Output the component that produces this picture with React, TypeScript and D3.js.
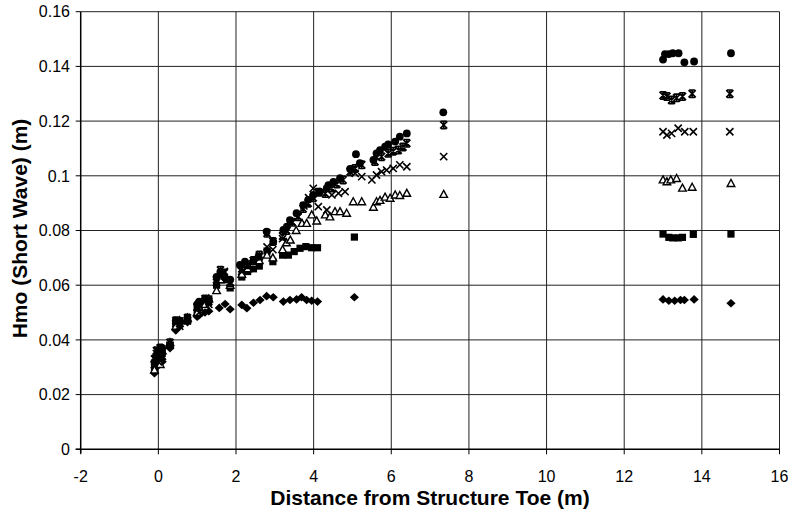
import React from "react";
import * as d3 from "d3";

const W = 794;
const H = 521;

const xTicks = [-2, 0, 2, 4, 6, 8, 10, 12, 14, 16];
const yTicks = [0, 0.02, 0.04, 0.06, 0.08, 0.1, 0.12, 0.14, 0.16];
const xTitle = "Distance from Structure Toe (m)";
const yTitle = "Hmo (Short Wave) (m)";

// Series: [x, Hmo]
const diamondX = [-0.1, -0.05, 0.0, 0.05, 0.1, 0.3, 0.45, 0.55, 0.75, 1.0, 1.05, 1.2, 1.3, 1.57, 1.72, 1.85, 2.15, 2.28, 2.45, 2.62, 2.79, 2.96, 3.22, 3.39, 3.56, 3.69, 3.82, 3.95, 4.1, 5.05, 13.0, 13.15, 13.3, 13.45, 13.55, 13.8, 14.75];
const diamondY = [0.0278, 0.030, 0.031, 0.033, 0.032, 0.037, 0.0435, 0.045, 0.0465, 0.0485, 0.049, 0.050, 0.0505, 0.0517, 0.0531, 0.0512, 0.0528, 0.0516, 0.0536, 0.0546, 0.056, 0.0556, 0.054, 0.0546, 0.0548, 0.0556, 0.0546, 0.0543, 0.054, 0.0556, 0.0548, 0.0543, 0.0543, 0.0546, 0.0546, 0.0548, 0.0534];

const squareX = [-0.1, -0.05, 0.0, 0.05, 0.1, 0.3, 0.45, 0.55, 0.75, 1.0, 1.05, 1.2, 1.3, 1.5, 1.6, 1.7, 1.85, 2.15, 2.3, 2.45, 2.6, 2.8, 2.95, 3.2, 3.35, 3.5, 3.65, 3.8, 3.95, 4.1, 5.05, 13.0, 13.15, 13.25, 13.4, 13.5, 13.78, 14.75];
const squareY = [0.030, 0.034, 0.033, 0.036, 0.035, 0.038, 0.046, 0.047, 0.047, 0.051, 0.052, 0.054, 0.055, 0.060, 0.064, 0.062, 0.059, 0.063, 0.065, 0.066, 0.067, 0.0725, 0.0686, 0.071, 0.071, 0.0723, 0.0735, 0.0741, 0.0737, 0.0737, 0.0776, 0.0787, 0.0775, 0.0773, 0.0773, 0.0775, 0.0786, 0.0787];

const triangleX = [-0.1, -0.05, 0.0, 0.05, 0.1, 0.3, 0.45, 0.55, 0.75, 1.0, 1.05, 1.2, 1.3, 1.5, 1.6, 1.7, 1.85, 2.15, 2.3, 2.45, 2.6, 2.8, 2.95, 3.2, 3.3, 3.4, 3.55, 3.7, 3.82, 3.95, 4.08, 4.3, 4.42, 4.55, 4.68, 4.85, 5.02, 5.24, 5.54, 5.62, 5.71, 5.84, 5.97, 6.1, 6.22, 6.4, 7.35, 13.0, 13.1, 13.2, 13.35, 13.5, 13.75, 14.75];
const triangleY = [0.029, 0.032, 0.034, 0.031, 0.036, 0.039, 0.045, 0.047, 0.048, 0.050, 0.052, 0.053, 0.055, 0.058, 0.062, 0.064, 0.060, 0.064, 0.066, 0.068, 0.069, 0.071, 0.070, 0.073, 0.0755, 0.0765, 0.080, 0.0826, 0.0826, 0.0857, 0.0835, 0.0857, 0.085, 0.0869, 0.0869, 0.0863, 0.0905, 0.0905, 0.0885, 0.0905, 0.091, 0.0922, 0.0918, 0.093, 0.0928, 0.0936, 0.0932, 0.0985, 0.0978, 0.0985, 0.099, 0.0955, 0.0958, 0.0972];

const crossX = [-0.1, -0.05, 0.0, 0.05, 0.1, 0.3, 0.45, 0.55, 0.75, 1.0, 1.05, 1.2, 1.3, 1.5, 1.6, 1.7, 1.85, 2.15, 2.3, 2.45, 2.6, 2.8, 2.95, 3.2, 3.3, 3.45, 3.6, 3.75, 3.87, 3.99, 4.12, 4.34, 4.47, 4.64, 4.81, 5.07, 5.24, 5.5, 5.62, 5.75, 5.88, 6.05, 6.22, 6.4, 7.35, 13.0, 13.1, 13.22, 13.39, 13.56, 13.78, 14.72];
const crossY = [0.031, 0.035, 0.032, 0.037, 0.034, 0.038, 0.046, 0.045, 0.047, 0.052, 0.050, 0.054, 0.053, 0.061, 0.063, 0.065, 0.061, 0.065, 0.067, 0.069, 0.0704, 0.074, 0.073, 0.077, 0.080, 0.083, 0.085, 0.089, 0.092, 0.0954, 0.0887, 0.0875, 0.093, 0.0936, 0.0942, 0.1009, 0.0997, 0.0985, 0.1003, 0.1015, 0.1021, 0.1027, 0.104, 0.1033, 0.107, 0.1161, 0.1149, 0.1155, 0.1174, 0.1161, 0.1161, 0.1161];

const starX = [-0.1, -0.05, 0.0, 0.05, 0.1, 0.3, 0.45, 0.55, 0.75, 1.0, 1.05, 1.2, 1.3, 1.5, 1.6, 1.7, 1.85, 2.15, 2.3, 2.45, 2.6, 2.8, 2.95, 3.2, 3.3, 3.45, 3.6, 3.73, 3.86, 3.99, 4.12, 4.3, 4.47, 4.6, 4.76, 4.94, 5.07, 5.24, 5.58, 5.75, 5.92, 6.05, 6.18, 6.3, 6.4, 7.35, 13.0, 13.1, 13.22, 13.35, 13.5, 13.75, 14.72];
const starY = [0.033, 0.036, 0.035, 0.037, 0.034, 0.039, 0.047, 0.046, 0.048, 0.052, 0.053, 0.055, 0.054, 0.062, 0.0655, 0.0645, 0.061, 0.066, 0.0675, 0.069, 0.071, 0.079, 0.076, 0.078, 0.080, 0.083, 0.085, 0.088, 0.090, 0.092, 0.094, 0.0935, 0.0955, 0.097, 0.0985, 0.1015, 0.1027, 0.104, 0.1052, 0.107, 0.1082, 0.109, 0.1094, 0.1105, 0.1119, 0.1186, 0.1294, 0.129, 0.1277, 0.1285, 0.129, 0.130, 0.130];

const circleX = [-0.1, -0.05, 0.0, 0.05, 0.1, 0.3, 0.45, 0.55, 0.75, 1.0, 1.05, 1.2, 1.3, 1.5, 1.6, 1.7, 1.85, 2.1, 2.23, 2.45, 2.58, 2.79, 2.96, 3.22, 3.31, 3.39, 3.56, 3.73, 3.86, 3.99, 4.16, 4.34, 4.38, 4.51, 4.68, 4.94, 5.09, 5.19, 5.54, 5.62, 5.71, 5.84, 5.92, 6.1, 6.22, 6.4, 7.34, 13.0, 13.05, 13.15, 13.25, 13.4, 13.55, 13.8, 14.75];
const circleY = [0.032, 0.034, 0.036, 0.035, 0.037, 0.038, 0.047, 0.047, 0.048, 0.053, 0.054, 0.055, 0.054, 0.063, 0.065, 0.063, 0.062, 0.0674, 0.0686, 0.0692, 0.0704, 0.0796, 0.0759, 0.0802, 0.0814, 0.0838, 0.0863, 0.0893, 0.0912, 0.093, 0.0942, 0.0955, 0.0966, 0.0978, 0.0991, 0.1025, 0.1079, 0.1046, 0.1058, 0.1082, 0.1094, 0.1107, 0.1115, 0.1125, 0.1143, 0.1155, 0.1232, 0.1425, 0.1445, 0.1445, 0.1448, 0.1448, 0.1415, 0.1418, 0.1448];

const xScale = d3.scaleLinear().domain([-2, 16]).range([80.7, 779.5]);
const yScale = d3.scaleLinear().domain([0, 0.16]).range([449.3, 11.7]);

const zip = (xs: number[], ys: number[]) => xs.map((x, i) => [x, ys[i]] as [number, number]);

const FONT = "Arial, 'Liberation Sans', Helvetica, sans-serif";

function Marker({ kind, x, y }: { kind: string; x: number; y: number }) {
  const c = "#000";
  switch (kind) {
    case "diamond":
      return <path d={`M${x},${y - 4.3}L${x + 4.6},${y}L${x},${y + 4.3}L${x - 4.6},${y}Z`} fill={c} />;
    case "square":
      return <rect x={x - 3.6} y={y - 3.6} width={7.2} height={7.2} fill={c} />;
    case "triangle":
      return <path d={`M${x},${y - 4}L${x + 3.8},${y + 3}L${x - 3.8},${y + 3}Z`} fill="#fff" stroke={c} strokeWidth={1.4} />;
    case "cross":
      return <path d={`M${x - 3.6},${y - 3.6}L${x + 3.6},${y + 3.6}M${x + 3.6},${y - 3.6}L${x - 3.6},${y + 3.6}`} stroke={c} strokeWidth={1.6} fill="none" />;
    case "star":
      return <path d={`M${x - 3.6},${y - 3.6}L${x + 3.6},${y + 3.6}M${x + 3.6},${y - 3.6}L${x - 3.6},${y + 3.6}M${x},${y - 3.8}L${x},${y + 3.8}M${x - 2.8},${y - 3.7}L${x + 2.8},${y - 3.7}M${x - 2.8},${y + 3.7}L${x + 2.8},${y + 3.7}`} stroke={c} strokeWidth={1.6} fill="none" />;
    default:
      return <circle cx={x} cy={y} r={3.9} fill={c} />;
  }
}

const series = [
  { kind: "diamond", pts: zip(diamondX, diamondY) },
  { kind: "square", pts: zip(squareX, squareY) },
  { kind: "triangle", pts: zip(triangleX, triangleY) },
  { kind: "cross", pts: zip(crossX, crossY) },
  { kind: "star", pts: zip(starX, starY) },
  { kind: "circle", pts: zip(circleX, circleY) },
];

export default function App() {
  const [x0, x1] = xScale.range();
  const [y0, y1] = yScale.range();
  return (
    <svg width={W} height={H} style={{ position: "absolute", left: 0, top: 0, background: "#fff" }} fontFamily={FONT}>
      <rect x={0} y={0} width={W} height={H} fill="#fff" />
      {/* grid */}
      {xTicks.slice(1).map((t) => (
        <line key={"gx" + t} x1={xScale(t)} x2={xScale(t)} y1={y1} y2={y0} stroke="#222" strokeWidth={1} />
      ))}
      {yTicks.slice(1).map((t) => (
        <line key={"gy" + t} x1={x0} x2={x1} y1={yScale(t)} y2={yScale(t)} stroke="#222" strokeWidth={1} />
      ))}
      {/* axes */}
      <line x1={x0} x2={x0} y1={y1} y2={y0 + 4} stroke="#000" strokeWidth={1.5} />
      <line x1={x0 - 5} x2={x1} y1={y0} y2={y0} stroke="#000" strokeWidth={1.5} />
      {yTicks.map((t) => (
        <line key={"ty" + t} x1={x0 - 5} x2={x0} y1={yScale(t)} y2={yScale(t)} stroke="#000" strokeWidth={1} />
      ))}
      {xTicks.map((t) => (
        <line key={"tx" + t} x1={xScale(t)} x2={xScale(t)} y1={y0} y2={y0 + 5} stroke="#000" strokeWidth={1} />
      ))}
      {/* tick labels */}
      {yTicks.map((t) => (
        <text key={"ly" + t} x={70} y={yScale(t)} dy="0.36em" textAnchor="end" fontSize={16} fill="#000">
          {t === 0 ? "0" : d3.format("")(+t.toFixed(2))}
        </text>
      ))}
      {xTicks.map((t) => (
        <text key={"lx" + t} x={xScale(t)} y={482} textAnchor="middle" fontSize={16} fill="#000">
          {t}
        </text>
      ))}
      {/* titles */}
      <text x={430} y={505} textAnchor="middle" fontSize={21} fontWeight="bold" fill="#000">
        {xTitle}
      </text>
      <text transform={`translate(27,${(y0 + y1) / 2 - 2}) rotate(-90)`} textAnchor="middle" fontSize={21} fontWeight="bold" fill="#000">
        {yTitle}
      </text>
      {/* data */}
      {series.map((s) => (
        <g key={s.kind}>
          {s.pts.map(([px, py], i) => (
            <Marker key={i} kind={s.kind} x={xScale(px)} y={yScale(py)} />
          ))}
        </g>
      ))}
    </svg>
  );
}
